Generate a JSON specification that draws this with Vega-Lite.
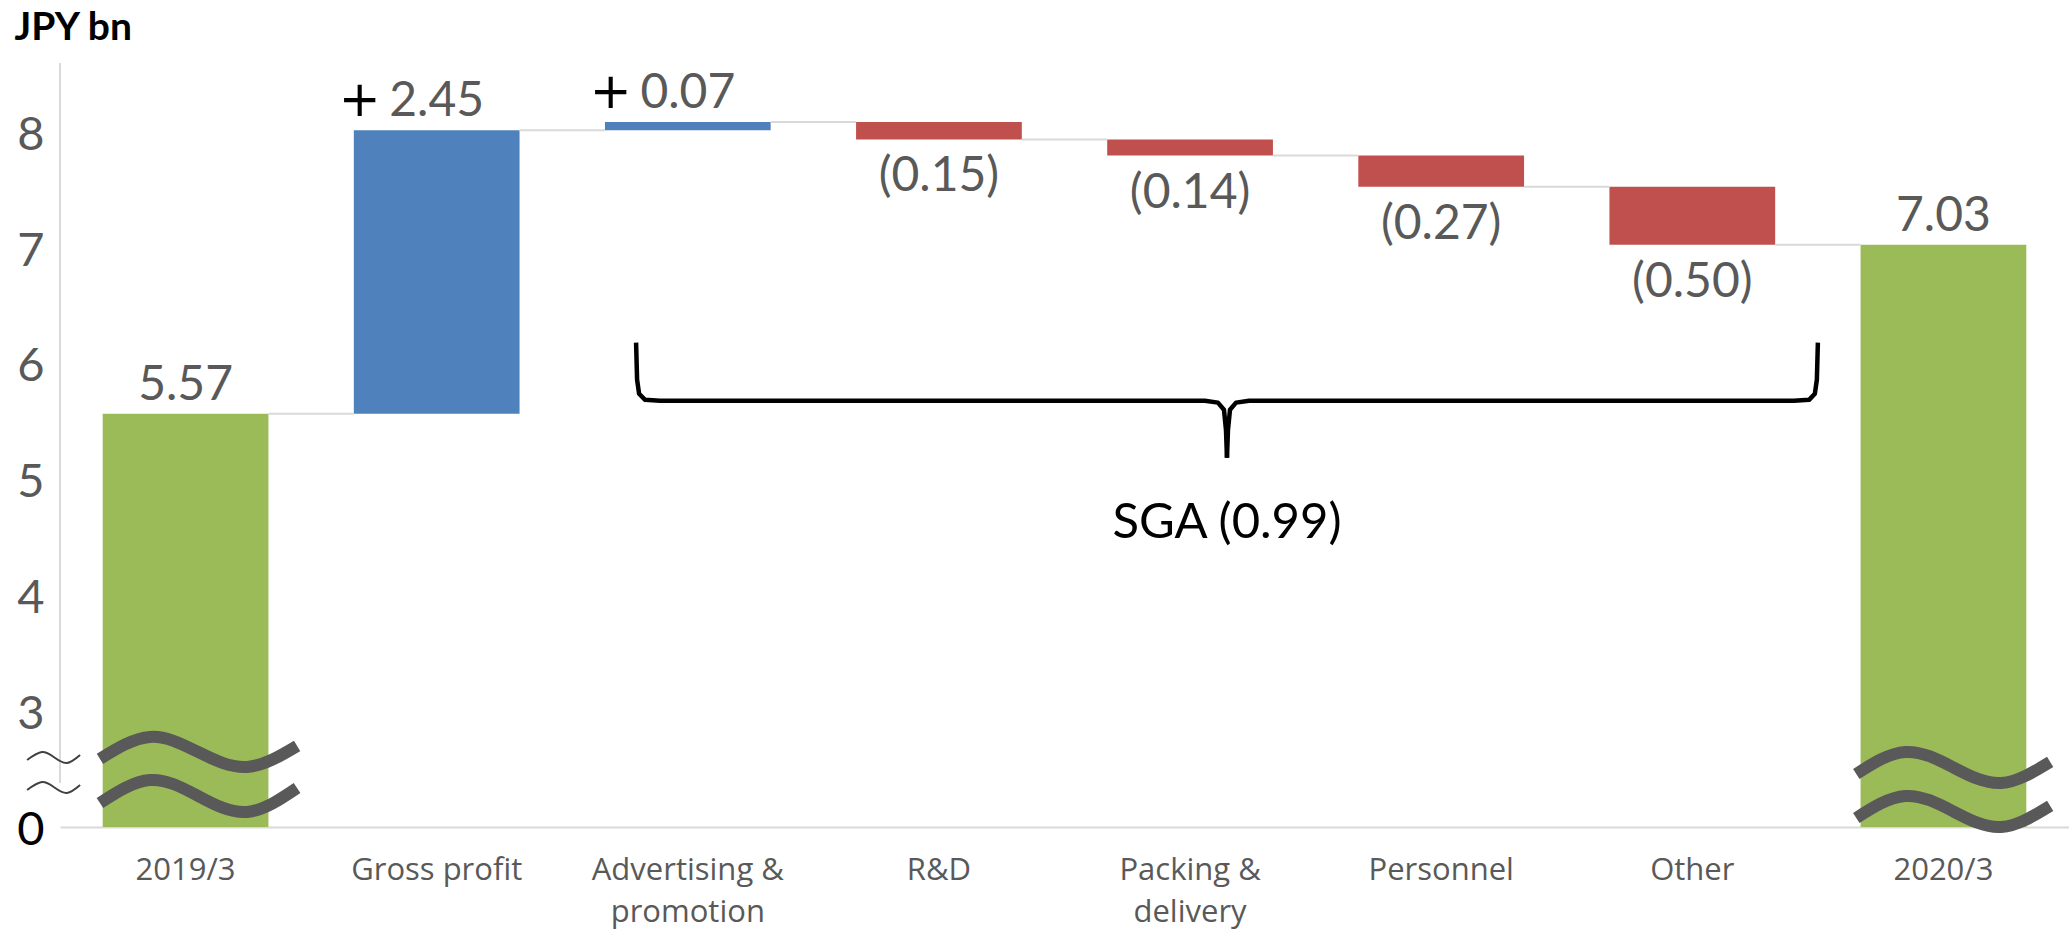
{
  "$schema": "https://vega.github.io/schema/vega-lite/v6.json",
  "width": 2009,
  "height": 764,
  "autosize": {"type": "none"},
  "padding": {"left": 60, "top": 63, "right": 0, "bottom": 106},
  "background": "white",
  "config": {"view": {"stroke": null}, "font": "Lato"},
  "datasets": {
    "steps": [
      {"item": "2019/3", "start": 0, "end": 5.57, "kind": "total"},
      {"item": "Gross profit", "start": 5.57, "end": 8.02, "kind": "up"},
      {"item": "Advertising & promotion", "start": 8.02, "end": 8.09, "kind": "up"},
      {"item": "R&D", "start": 8.09, "end": 7.94, "kind": "down"},
      {"item": "Packing & delivery", "start": 7.94, "end": 7.80, "kind": "down"},
      {"item": "Personnel", "start": 7.80, "end": 7.53, "kind": "down"},
      {"item": "Other", "start": 7.53, "end": 7.03, "kind": "down"},
      {"item": "2020/3", "start": 0, "end": 7.03, "kind": "total"}
    ],
    "breaks": [
      {"wave": "a1", "x": -0.341, "y": 2.588},
      {"wave": "a1", "x": -0.142, "y": 2.778},
      {"wave": "a1", "x": 0.050, "y": 2.648},
      {"wave": "a1", "x": 0.245, "y": 2.519},
      {"wave": "a1", "x": 0.444, "y": 2.700},
      {"wave": "a2", "x": -0.341, "y": 2.207},
      {"wave": "a2", "x": -0.142, "y": 2.406},
      {"wave": "a2", "x": 0.050, "y": 2.268},
      {"wave": "a2", "x": 0.245, "y": 2.130},
      {"wave": "a2", "x": 0.444, "y": 2.337},
      {"wave": "b1", "x": 6.653, "y": 2.458},
      {"wave": "b1", "x": 6.848, "y": 2.648},
      {"wave": "b1", "x": 7.040, "y": 2.514},
      {"wave": "b1", "x": 7.230, "y": 2.380},
      {"wave": "b1", "x": 7.425, "y": 2.562},
      {"wave": "b2", "x": 6.653, "y": 2.078},
      {"wave": "b2", "x": 6.848, "y": 2.268},
      {"wave": "b2", "x": 7.040, "y": 2.134},
      {"wave": "b2", "x": 7.230, "y": 2.000},
      {"wave": "b2", "x": 7.425, "y": 2.182}
    ],
    "axisBreaks": [
      {"wave": "t1", "x": -0.631, "y": 2.579},
      {"wave": "t1", "x": -0.572, "y": 2.648},
      {"wave": "t1", "x": -0.522, "y": 2.600},
      {"wave": "t1", "x": -0.472, "y": 2.553},
      {"wave": "t1", "x": -0.420, "y": 2.622},
      {"wave": "t2", "x": -0.631, "y": 2.320},
      {"wave": "t2", "x": -0.572, "y": 2.389},
      {"wave": "t2", "x": -0.522, "y": 2.341},
      {"wave": "t2", "x": -0.472, "y": 2.294},
      {"wave": "t2", "x": -0.420, "y": 2.363}
    ],
    "brace": [
      {"half": "L", "x": 1.794, "y": 6.184},
      {"half": "L", "x": 1.798, "y": 5.865},
      {"half": "L", "x": 1.806, "y": 5.743},
      {"half": "L", "x": 1.830, "y": 5.690},
      {"half": "L", "x": 1.889, "y": 5.683},
      {"half": "L", "x": 4.059, "y": 5.683},
      {"half": "L", "x": 4.111, "y": 5.666},
      {"half": "L", "x": 4.135, "y": 5.605},
      {"half": "L", "x": 4.143, "y": 5.432},
      {"half": "L", "x": 4.147, "y": 5.190},
      {"half": "R", "x": 4.147, "y": 5.190},
      {"half": "R", "x": 4.151, "y": 5.432},
      {"half": "R", "x": 4.159, "y": 5.605},
      {"half": "R", "x": 4.183, "y": 5.666},
      {"half": "R", "x": 4.235, "y": 5.683},
      {"half": "R", "x": 6.405, "y": 5.683},
      {"half": "R", "x": 6.465, "y": 5.690},
      {"half": "R", "x": 6.488, "y": 5.743},
      {"half": "R", "x": 6.496, "y": 5.865},
      {"half": "R", "x": 6.500, "y": 6.184}
    ],
    "notes": [
      {"x": 4.147, "y": 4.5, "label": "SGA (0.99)"}
    ]
  },
  "layer": [
    {
      "data": {"name": "steps"},
      "transform": [
        {"calculate": "datum.kind == 'down' ? '(' + format(datum.start - datum.end, '.2f') + ')' : format(datum.end - datum.start, '.2f')", "as": "txt"}
      ],
      "layer": [
        {
          "mark": {"type": "bar"},
          "encoding": {
            "x": {
              "field": "item", "type": "nominal", "sort": null,
              "scale": {"domain": ["2019/3", "Gross profit", "Advertising & promotion", "R&D", "Packing & delivery", "Personnel", "Other", "2020/3"], "paddingInner": 0.34, "paddingOuter": 0.17},
              "axis": {
                "title": null, "labelAngle": 0, "ticks": false,
                "labelFont": "Open Sans", "labelFontSize": 31, "labelColor": "#595959",
                "labelPadding": 28, "labelLineHeight": 42, "labelLimit": 0,
                "domainColor": "#D9D9D9", "domainWidth": 2,
                "labelExpr": "datum.label == 'Advertising & promotion' ? ['Advertising &', 'promotion'] : datum.label == 'Packing & delivery' ? ['Packing &', 'delivery'] : datum.label"
              }
            },
            "y": {
              "field": "end", "type": "quantitative",
              "scale": {"domain": [2, 8.6], "nice": false, "zero": false, "clamp": true},
              "axis": {
                "values": [2, 3, 4, 5, 6, 7, 8],
                "format": "d",
                "labelExpr": "datum.value == 2 ? '0' : format(datum.value, 'd')",
                "labelColor": {"condition": {"test": "datum.value == 2", "value": "black"}, "value": "#595959"},
                "labelFont": "Lato", "labelFontSize": 47, "labelPadding": 16, "labelOffset": 3,
                "ticks": false, "grid": false, "domain": false,
                "title": "JPY bn", "titleAngle": 0, "titleAlign": "left", "titleBaseline": "alphabetic",
                "titleX": -46, "titleY": -24, "titleFont": "Lato", "titleFontSize": 39,
                "titleFontWeight": "bold", "titleColor": "black"
              }
            },
            "y2": {"field": "start"},
            "color": {
              "field": "kind", "type": "nominal",
              "scale": {"domain": ["total", "up", "down"], "range": ["#9BBB59", "#4F81BD", "#C0504D"]},
              "legend": null
            }
          }
        },
        {
          "transform": [
            {"window": [{"op": "lead", "field": "item", "as": "next"}]},
            {"filter": "datum.next != null"}
          ],
          "mark": {"type": "rule", "color": "#D9D9D9", "strokeWidth": 2},
          "encoding": {
            "x": {
              "field": "item", "type": "nominal", "sort": null, "bandPosition": 1,
              "scale": {"domain": ["2019/3", "Gross profit", "Advertising & promotion", "R&D", "Packing & delivery", "Personnel", "Other", "2020/3"], "paddingInner": 0.34, "paddingOuter": 0.17}
            },
            "x2": {"field": "next", "bandPosition": 0},
            "y": {"field": "end", "type": "quantitative", "scale": {"domain": [2, 8.6], "nice": false, "zero": false, "clamp": true}}
          }
        },
        {
          "transform": [{"filter": "datum.kind != 'down'"}],
          "mark": {"type": "text", "font": "Lato", "fontSize": 48, "color": "#595959", "align": "center", "baseline": "alphabetic", "dy": -14},
          "encoding": {
            "x": {"field": "item", "type": "nominal", "sort": null,
              "scale": {"domain": ["2019/3", "Gross profit", "Advertising & promotion", "R&D", "Packing & delivery", "Personnel", "Other", "2020/3"], "paddingInner": 0.34, "paddingOuter": 0.17}},
            "y": {"field": "end", "type": "quantitative", "scale": {"domain": [2, 8.6], "nice": false, "zero": false, "clamp": true}},
            "text": {"field": "txt"}
          }
        },
        {
          "transform": [{"filter": "datum.kind == 'down'"}],
          "mark": {"type": "text", "font": "Lato", "fontSize": 48, "color": "#595959", "align": "center", "baseline": "alphabetic", "dy": 52},
          "encoding": {
            "x": {"field": "item", "type": "nominal", "sort": null,
              "scale": {"domain": ["2019/3", "Gross profit", "Advertising & promotion", "R&D", "Packing & delivery", "Personnel", "Other", "2020/3"], "paddingInner": 0.34, "paddingOuter": 0.17}},
            "y": {"field": "end", "type": "quantitative", "scale": {"domain": [2, 8.6], "nice": false, "zero": false, "clamp": true}},
            "text": {"field": "txt"}
          }
        },
        {
          "transform": [{"filter": "datum.kind == 'up'"}],
          "mark": {"type": "text", "font": "DejaVu Sans", "fontSize": 50, "color": "black", "align": "center", "baseline": "alphabetic", "dx": -77, "dy": -14},
          "encoding": {
            "x": {"field": "item", "type": "nominal", "sort": null,
              "scale": {"domain": ["2019/3", "Gross profit", "Advertising & promotion", "R&D", "Packing & delivery", "Personnel", "Other", "2020/3"], "paddingInner": 0.34, "paddingOuter": 0.17}},
            "y": {"field": "end", "type": "quantitative", "scale": {"domain": [2, 8.6], "nice": false, "zero": false, "clamp": true}},
            "text": {"value": "+"}
          }
        }
      ]
    },
    {
      "layer": [
        {
          "data": {"values": [{"from": 2.38, "to": 8.6, "at": -0.5}]},
          "mark": {"type": "rule", "color": "#D9D9D9", "strokeWidth": 2},
          "encoding": {
            "x": {"field": "at", "type": "quantitative", "scale": {"domain": [-0.5, 7.5], "nice": false, "zero": false}, "axis": null},
            "y": {"field": "from", "type": "quantitative", "scale": {"domain": [2, 8.6], "nice": false, "zero": false, "clamp": true}},
            "y2": {"field": "to"}
          }
        },
        {
          "data": {"name": "axisBreaks"},
          "mark": {"type": "line", "color": "#404040", "strokeWidth": 2, "interpolate": "natural"},
          "encoding": {
            "x": {"field": "x", "type": "quantitative", "scale": {"domain": [-0.5, 7.5], "nice": false, "zero": false}, "axis": null},
            "y": {"field": "y", "type": "quantitative", "scale": {"domain": [2, 8.6], "nice": false, "zero": false, "clamp": true}},
            "detail": {"field": "wave", "type": "nominal"}
          }
        },
        {
          "data": {"name": "breaks"},
          "mark": {"type": "line", "color": "#595959", "strokeWidth": 12, "strokeCap": "butt", "interpolate": "natural"},
          "encoding": {
            "x": {"field": "x", "type": "quantitative", "scale": {"domain": [-0.5, 7.5], "nice": false, "zero": false}, "axis": null},
            "y": {"field": "y", "type": "quantitative", "scale": {"domain": [2, 8.6], "nice": false, "zero": false, "clamp": true}},
            "detail": {"field": "wave", "type": "nominal"}
          }
        },
        {
          "data": {"name": "brace"},
          "mark": {"type": "line", "color": "black", "strokeWidth": 4.5, "strokeJoin": "round", "interpolate": "linear"},
          "encoding": {
            "x": {"field": "x", "type": "quantitative", "scale": {"domain": [-0.5, 7.5], "nice": false, "zero": false}, "axis": null},
            "y": {"field": "y", "type": "quantitative", "scale": {"domain": [2, 8.6], "nice": false, "zero": false, "clamp": true}},
            "detail": {"field": "half", "type": "nominal"}
          }
        },
        {
          "data": {"name": "notes"},
          "mark": {"type": "text", "font": "Lato", "fontSize": 49, "color": "black", "align": "center", "baseline": "alphabetic"},
          "encoding": {
            "x": {"field": "x", "type": "quantitative", "scale": {"domain": [-0.5, 7.5], "nice": false, "zero": false}, "axis": null},
            "y": {"field": "y", "type": "quantitative", "scale": {"domain": [2, 8.6], "nice": false, "zero": false, "clamp": true}},
            "text": {"field": "label"}
          }
        }
      ]
    }
  ],
  "resolve": {"scale": {"x": "independent"}}
}
